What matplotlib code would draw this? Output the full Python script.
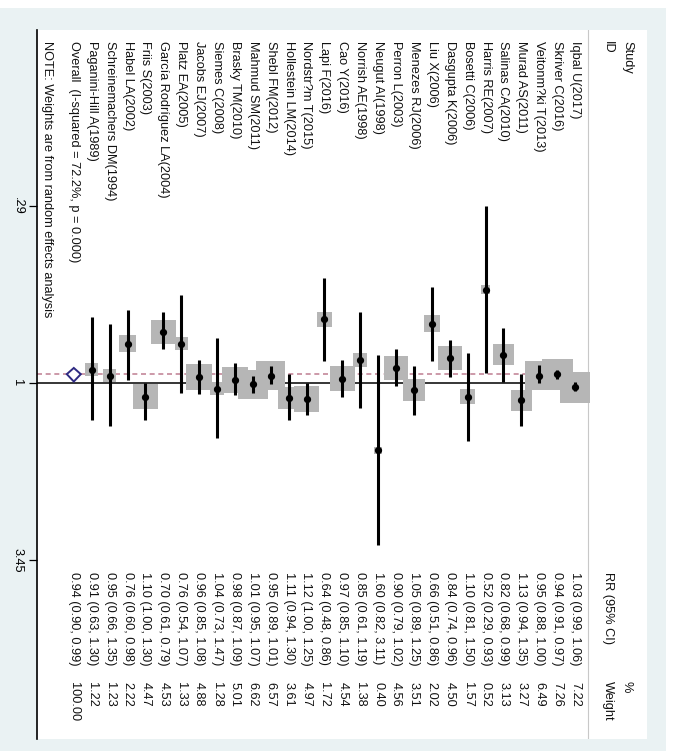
import numpy as np
import matplotlib
matplotlib.use("Agg")
import matplotlib.pyplot as plt
from matplotlib.patches import Rectangle
from matplotlib.ticker import NullLocator
from matplotlib.transforms import blended_transform_factory

# Forest plot (drawn rotated 90 degrees, like the reference image)
studies = [
    "Iqbal U(2017)", "Skriver C(2016)", "Veitonm?ki T(2013)", "Murad AS(2011)",
    "Salinas CA(2010)", "Harris RE(2007)", "Bosetti C(2006)", "Dasgupta K(2006)",
    "Liu X(2006)", "Menezes RJ(2006)", "Perron L(2003)", "Neugut AI(1998)",
    "Norrish AE(1998)", "Cao Y(2016)", "Lapi F(2016)", "Nordstr?m T(2015)",
    "Hollestein LM(2014)", "Shebl FM(2012)", "Mahmud SM(2011)", "Brasky TM(2010)",
    "Siemes C(2008)", "Jacobs EJ(2007)", "Platz EA(2005)", "García Rodríguez LA(2004)",
    "Friis S(2003)", "Habel LA(2002)", "Schreinemachers DM(1994)", "Paganini-Hill A(1989)",
]
rr = [1.03, 0.94, 0.95, 1.13, 0.82, 0.52, 1.10, 0.84, 0.66, 1.05, 0.90, 1.60, 0.85, 0.97,
      0.64, 1.12, 1.11, 0.95, 1.01, 0.98, 1.04, 0.96, 0.76, 0.70, 1.10, 0.76, 0.95, 0.91]
ci_lo = [0.99, 0.91, 0.88, 0.94, 0.68, 0.29, 0.81, 0.74, 0.51, 0.89, 0.79, 0.82, 0.61, 0.85,
         0.48, 1.00, 0.94, 0.89, 0.95, 0.87, 0.73, 0.85, 0.54, 0.61, 1.00, 0.60, 0.66, 0.63]
ci_hi = [1.06, 0.97, 1.00, 1.35, 0.99, 0.93, 1.50, 0.96, 0.86, 1.25, 1.02, 3.11, 1.19, 1.10,
         0.86, 1.25, 1.30, 1.01, 1.07, 1.09, 1.47, 1.08, 1.07, 0.79, 1.30, 0.98, 1.35, 1.30]
weights = [7.22, 7.26, 6.49, 3.27, 3.13, 0.52, 1.57, 4.50, 2.02, 3.51, 4.56, 0.40, 1.38, 4.54,
           1.72, 4.97, 3.61, 6.57, 6.62, 5.01, 1.28, 4.88, 1.33, 4.53, 4.47, 2.22, 1.23, 1.22]

overall_label = "Overall  (I-squared = 72.2%, p = 0.000)"
overall_rr, overall_lo, overall_hi, overall_w = 0.94, 0.90, 0.99, 100.00
note = "NOTE: Weights are from random effects analysis"
axis_ticks = [0.29, 1, 3.45]
axis_ticklabels = [".29", "1", "3.45"]

plt.rcParams['font.family'] = ['Liberation Sans', 'DejaVu Sans']
FS = 9.2

W, H = 681, 751
fig = plt.figure(figsize=(W / 100, H / 100), dpi=100)
fig.patch.set_facecolor('white')
# light grey graph region
fig.add_artist(Rectangle((0, 0), 666 / W, (H - 8) / H, transform=fig.transFigure,
                         facecolor='#eaf2f3', edgecolor='none', zorder=-10))

# inner plot region, pixel bounds of the reference
left, right, top, bottom = 37, 647, 30, 739
ax = fig.add_axes([left / W, (H - bottom) / H, (right - left) / W, (bottom - top) / H])
ax.set_facecolor('white')

row_px = 17.9          # spacing of rows in pixels
first_row_px = 575     # x pixel of first study
px_per_log = 177 / np.log(3.45)
ax.set_xlim((first_row_px - left) / row_px, (first_row_px - right) / row_px)
ax.set_yscale('log')
ax.set_ylim(np.exp((bottom - 383) / px_per_log), np.exp((top - 383) / px_per_log))

rows = np.arange(len(studies))
overall_row = len(studies)
note_row = overall_row + 1.5
sep = -0.73

# reference lines
x0 = ax.get_xlim()[0]
ax.hlines(1, sep, x0, colors='black', lw=1.1, zorder=1)
ax.hlines(overall_rr, sep, x0, colors='#c4879a', lw=1.2, linestyles=(0, (3, 2.2)), zorder=1)
ax.axvline(sep, color='#c8c8c8', lw=0.8, zorder=1)

# weight boxes, CI lines, point estimates
side_pt = 0.72 * 11.5
ax.scatter(rows, rr, s=side_pt ** 2 * np.array(weights), marker='s', c='#b6b6b6',
           linewidths=0, zorder=2)
ax.vlines(rows, ci_lo, ci_hi, colors='black', lw=2.2, zorder=3)
ax.plot(rows, rr, 'o', color='black', ms=4.2, zorder=4)

# overall diamond
hw = 7 / row_px
ax.fill([overall_row, overall_row - hw, overall_row, overall_row + hw],
        [overall_lo, overall_rr, overall_hi, overall_rr],
        facecolor='white', edgecolor='#2e2a82', lw=1.4, zorder=4)

# text columns
trans = blended_transform_factory(ax.transData, ax.transAxes)
def col_y(px):
    return (bottom - px) / (bottom - top)

kw = dict(transform=trans, rotation=270, rotation_mode='anchor', ha='left', va='center',
          fontsize=FS, color='#111111')
ax.text(-2.9, col_y(41), "Study", **kw)
ax.text(-1.84, col_y(41), "ID", **kw)
ax.text(-1.84, col_y(572), "RR (95% CI)", **kw)
ax.text(-2.85, col_y(681), "%", **kw)
ax.text(-1.84, col_y(681), "Weight", **kw)

for r, name, e, lo, hi, w in zip(rows, studies, rr, ci_lo, ci_hi, weights):
    ax.text(r, col_y(41), name, **kw)
    ax.text(r, col_y(572), f"{e:.2f} ({lo:.2f}, {hi:.2f})", **kw)
    ax.text(r, col_y(682), f"{w:.2f}", **kw)

ax.text(overall_row, col_y(41), overall_label, **kw)
ax.text(overall_row, col_y(572), f"{overall_rr:.2f} ({overall_lo:.2f}, {overall_hi:.2f})", **kw)
ax.text(overall_row, col_y(682), f"{overall_w:.2f}", **kw)
ax.text(note_row, col_y(41), note, **kw)

# axis styling
for s in ['top', 'right', 'bottom']:
    ax.spines[s].set_visible(False)
ax.spines['left'].set_linewidth(1.2)
ax.set_xticks([])
ax.yaxis.set_minor_locator(NullLocator())
ax.set_yticks(axis_ticks)
ax.set_yticklabels(axis_ticklabels)
ax.tick_params(axis='y', direction='out', length=5.8, width=0.9, pad=4, labelsize=FS)
for lab in ax.get_yticklabels():
    lab.set_rotation(270)
    lab.set_ha('right')
    lab.set_va('center')

fig.savefig('out.png', dpi=100)
